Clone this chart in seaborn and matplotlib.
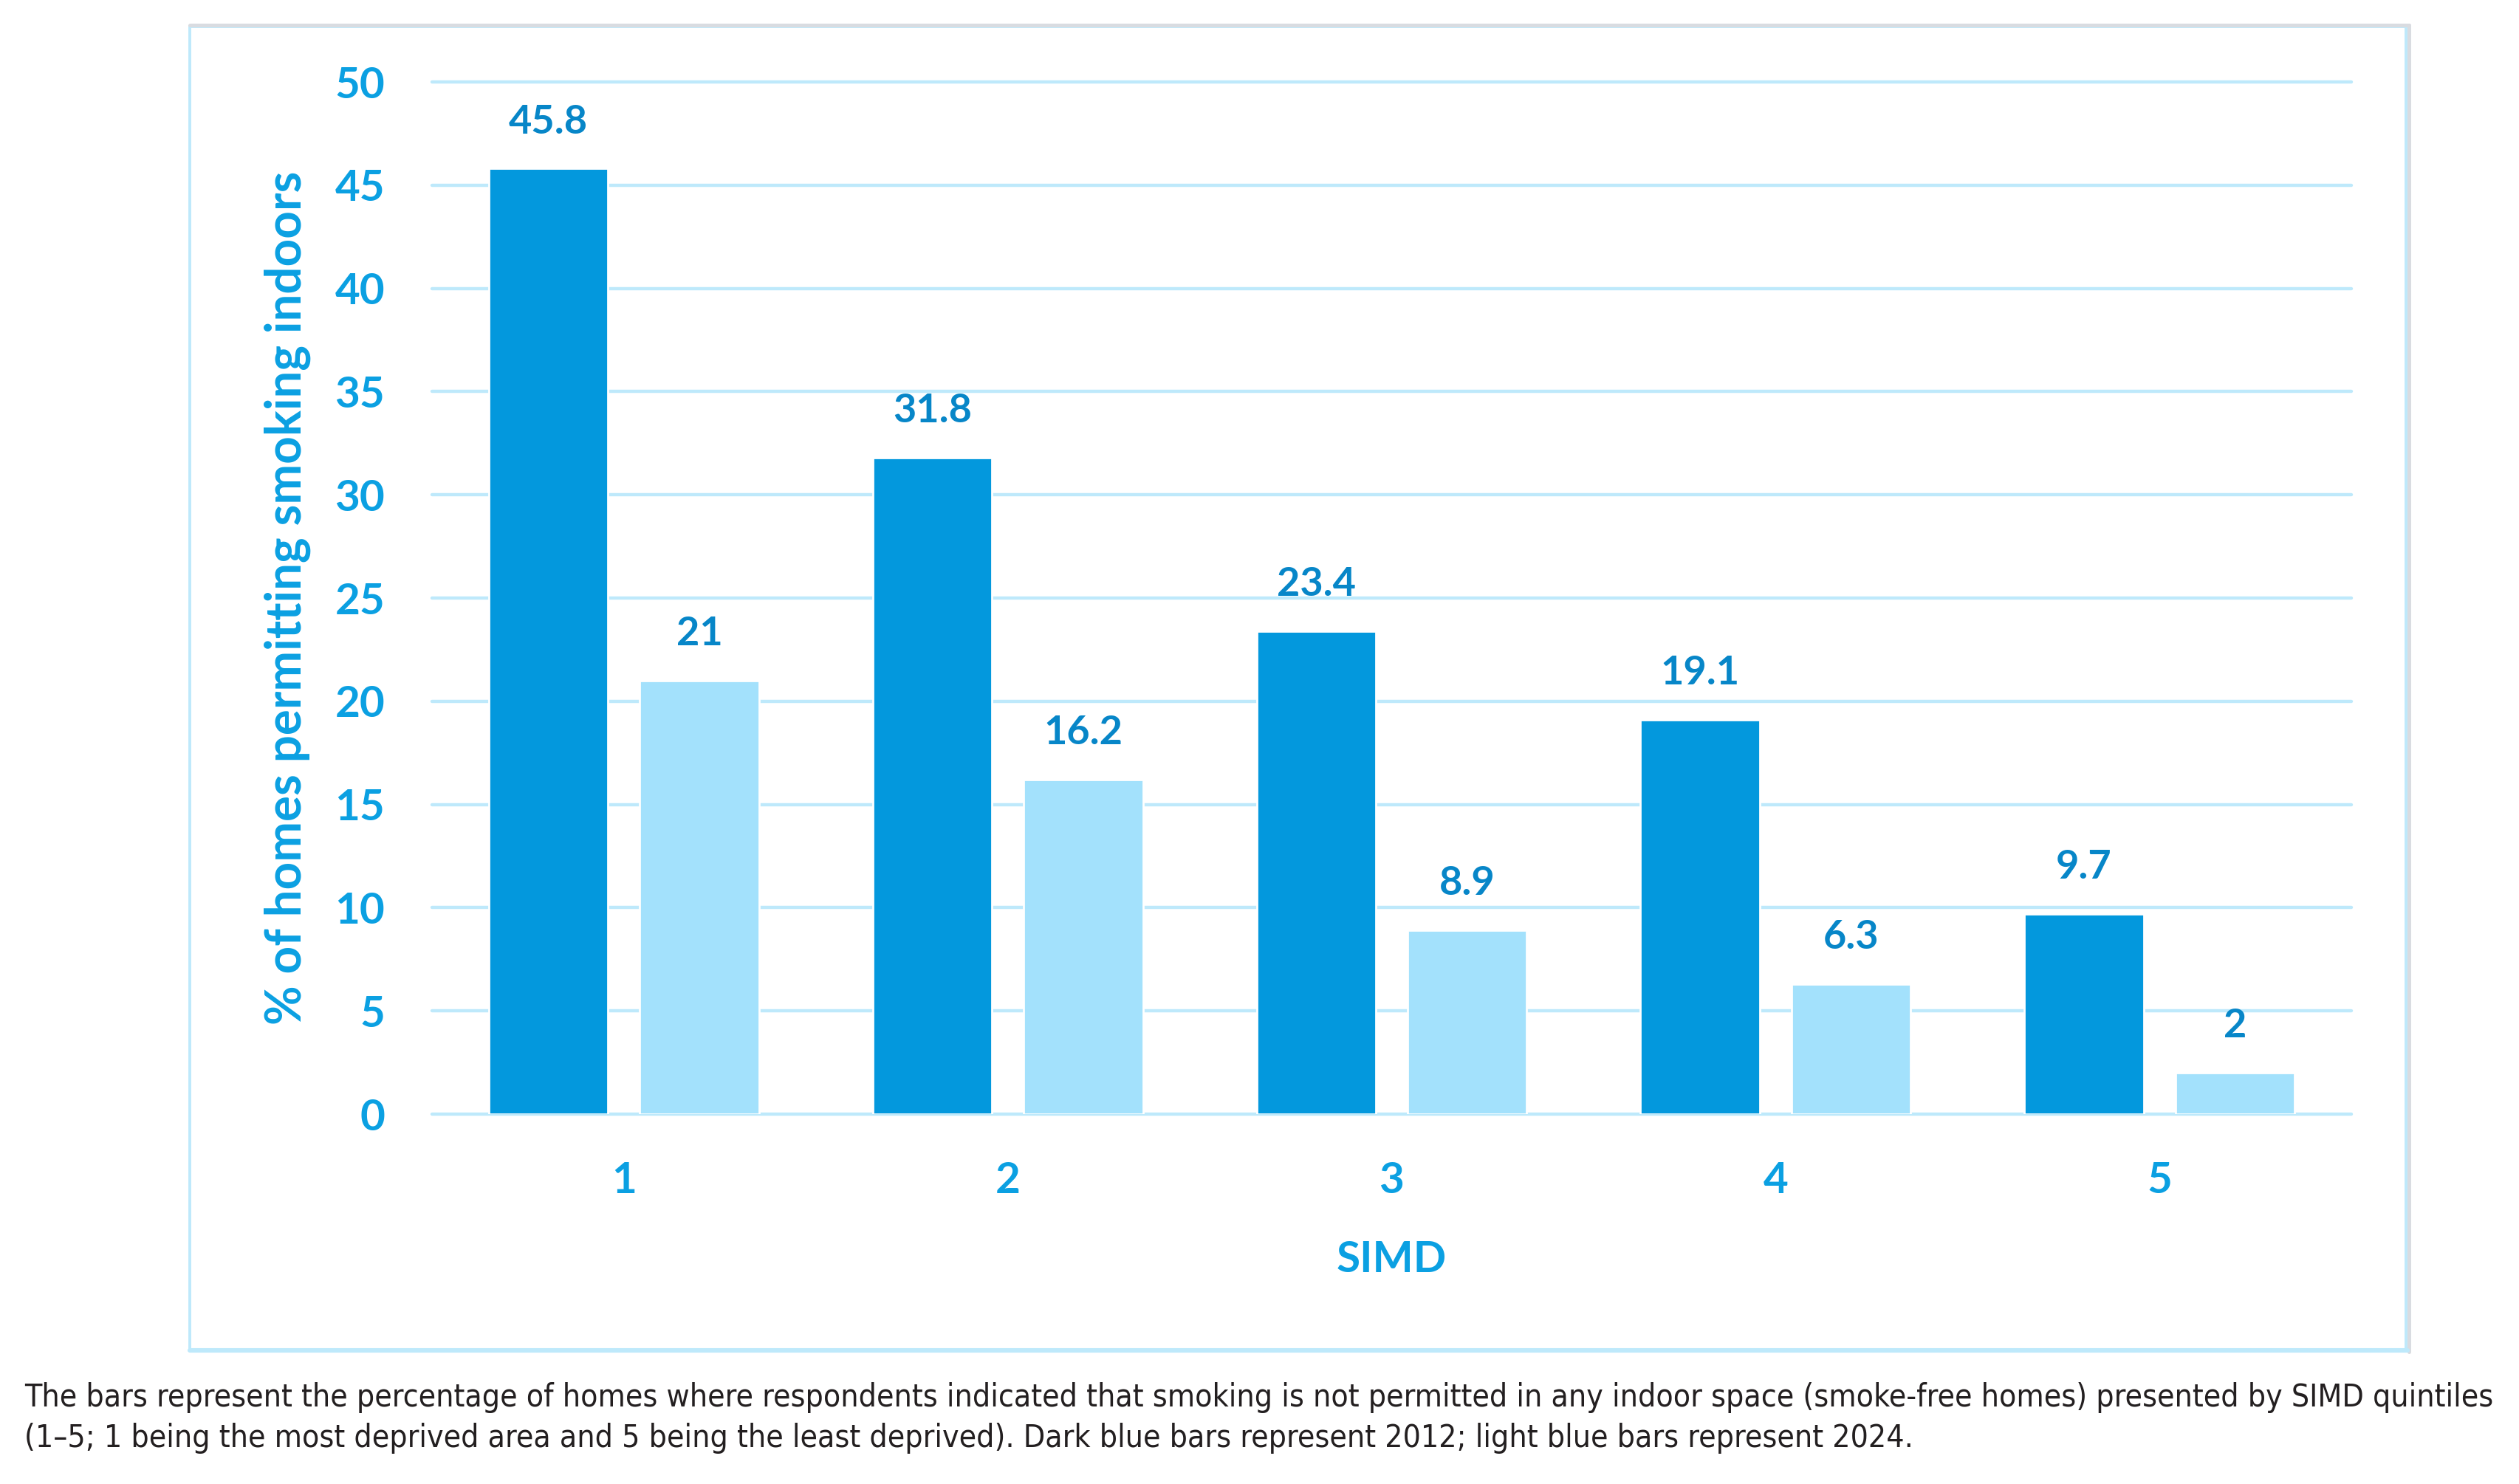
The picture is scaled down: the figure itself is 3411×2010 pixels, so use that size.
import pandas as pd
import matplotlib
matplotlib.use("Agg")
import matplotlib.pyplot as plt
from matplotlib import font_manager
from matplotlib.patches import Rectangle
from matplotlib.lines import Line2D
import seaborn as sns

# ---------------------------------------------------------------------------
# DATA
# ---------------------------------------------------------------------------
simd = ["1", "2", "3", "4", "5"]
years = ["2012", "2024"]
pct_2012 = [45.8, 31.8, 23.4, 19.1, 9.7]
pct_2024 = [21, 16.2, 8.9, 6.3, 2]
y_ticks = [0, 5, 10, 15, 20, 25, 30, 35, 40, 45, 50]

caption = (
    "The bars represent the percentage of homes where respondents indicated that smoking is not "
    "permitted in any indoor space (smoke-free homes) presented by SIMD quintiles\n"
    "(1\u20135; 1 being the most deprived area and 5 being the least deprived). "
    "Dark blue bars represent 2012; light blue bars represent 2024."
)

# ---------------------------------------------------------------------------
# STYLE
# ---------------------------------------------------------------------------
DARK = "#0398DD"
LIGHT = "#A3E1FC"
GRID = "#BEE9FB"
SHADOW = "#D9DCE1"
TICK_COL = "#0BA0E2"
VAL_COL = "#0786C8"

W, H = 3412, 2010

sns.set_theme(style="white")
plt.rcParams["font.family"] = ["Lato", "DejaVu Sans"]


def caption_font():
    """Pick a condensed regular font if one is installed, else Roboto."""
    for f in font_manager.fontManager.ttflist:
        if f.stretch in ("condensed", "semi-condensed") and f.style == "normal" \
                and f.weight in (300, 400, "normal", "light", "book"):
            return font_manager.FontProperties(fname=f.fname)
    return font_manager.FontProperties(family=["Roboto", "DejaVu Sans"])


df = pd.DataFrame({
    "SIMD": simd * 2,
    "year": [years[0]] * len(simd) + [years[1]] * len(simd),
    "pct": pct_2012 + pct_2024,
})

fig = plt.figure(figsize=(W / 200, H / 200), dpi=200)
ax = fig.add_axes([585 / W, 1 - 1509 / H, (3184 - 585) / W, (1509 - 111) / H])

sns.barplot(
    data=df, x="SIMD", y="pct", hue="year",
    palette=[DARK, LIGHT], width=0.786, gap=0.21,
    saturation=1, legend=False, ax=ax,
)

ax.set_ylim(0, 50)
ax.set_xlim(-0.5, 4.5)
ax.set_yticks(y_ticks)
ax.set_axisbelow(True)
ax.yaxis.grid(True, color=GRID, linewidth=1.6)
for gl in ax.get_ygridlines():
    gl.set_clip_on(False)
for s in ax.spines.values():
    s.set_visible(False)

ax.tick_params(axis="both", length=0, pad=23, labelsize=21,
               labelcolor=TICK_COL)
for lab in ax.get_xticklabels() + ax.get_yticklabels():
    lab.set_fontweight("bold")

for cont in ax.containers:
    ax.bar_label(cont, fmt="{:g}", padding=14, fontsize=19.5,
                 fontweight="bold", color=VAL_COL)

ax.set_xlabel("SIMD", fontsize=21, fontweight="bold", color=TICK_COL, va="top")
ax.set_ylabel("% of homes permitting smoking indoors", fontsize=23.6,
              fontweight="bold", color=TICK_COL)
ax.xaxis.set_label_coords(0.5, -0.122)
ax.yaxis.set_label_coords(-0.063, 0.5)

# frame around the chart, with a faint grey shadow on top/right
fig.add_artist(Line2D([257 / W, 3262 / W], [1 - 34 / H, 1 - 34 / H],
                      transform=fig.transFigure, color=SHADOW, linewidth=1.8))
fig.add_artist(Line2D([3262 / W, 3262 / W], [1 - 34 / H, 1 - 1831 / H],
                      transform=fig.transFigure, color=SHADOW, linewidth=1.8))
fig.patches.append(Rectangle(
    (257 / W, 1 - 1829 / H), (3258 - 257) / W, (1829 - 36) / H,
    transform=fig.transFigure, fill=False, edgecolor=GRID, linewidth=1.4,
))
fig.add_artist(Line2D([257 / W, 3260 / W], [1 - 1829 / H, 1 - 1829 / H],
                      transform=fig.transFigure, color=GRID, linewidth=2.2))

# caption, sized so the first line spans the same width as in the source
cap = fig.text(33 / W, 1 - 1872 / H, caption, ha="left", va="top",
               fontproperties=caption_font(), fontsize=16.5,
               color="#231F20", linespacing=1.4)
fig.canvas.draw()
width = cap.get_window_extent().width
cap.set_fontsize(16.5 * (3344 / width))

fig.savefig("out.png", dpi=200)
